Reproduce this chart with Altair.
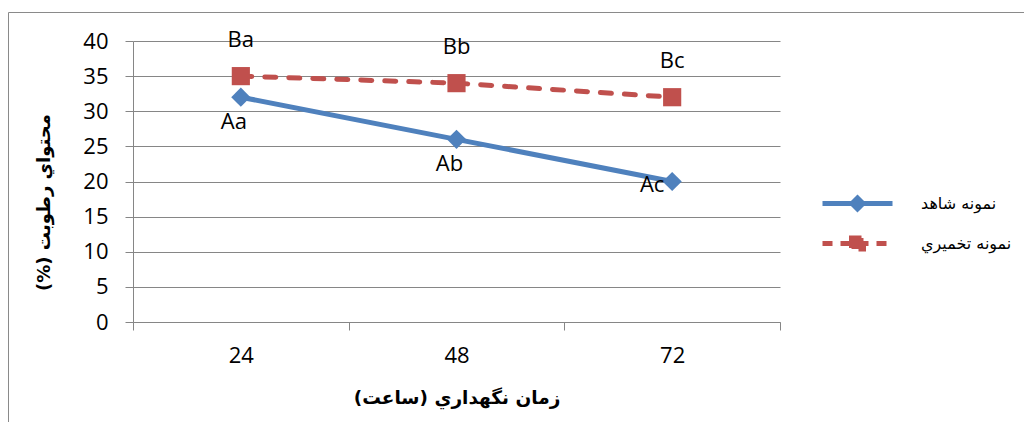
import altair as alt
import pandas as pd

# ---- data ----
hours = [24, 48, 72]
series_names = ["نمونه شاهد", "نمونه تخميري"]
control_values = [32, 26, 20]
fermented_values = [35, 34, 32]
control_letters = ["Aa", "Ab", "Ac"]
fermented_letters = ["Ba", "Bb", "Bc"]
x_tick_values = [12, 24, 36, 48, 60, 72, 84]
y_tick_values = [0, 5, 10, 15, 20, 25, 30, 35, 40]
colors = ["#4F81BD", "#C0504D"]
x_title = "زمان نگهداري (ساعت)"
y_title = "محتواي رطوبت (%)"

RLE, PDF = "\u202B", "\u202C"  # right-to-left embedding so the parentheses sit as in the original

rows = []
for h, v, l in zip(hours, control_values, control_letters):
    rows.append({"hour": h, "value": v, "series": series_names[0], "letter": l})
for h, v, l in zip(hours, fermented_values, fermented_letters):
    rows.append({"hour": h, "value": v, "series": series_names[1], "letter": l})
df = pd.DataFrame(rows)

GRID = "#868686"
NUM_FONT = "Open Sans"
AR_FONT = "DejaVu Sans"
NUM_SIZE = 22

x_enc = alt.X(
    "hour:Q",
    scale=alt.Scale(domain=[12, 84], nice=False, zero=False),
    axis=alt.Axis(
        values=x_tick_values,
        labelExpr="datum.value % 24 === 0 ? datum.label : ''",
        tickOpacity={"condition": {"test": "datum.value % 24 === 12", "value": 1}, "value": 0},
        grid=False,
        domainColor=GRID,
        tickColor=GRID,
        tickSize=8,
        labelFontSize=NUM_SIZE,
        labelFont=NUM_FONT,
        labelPadding=15,
        labelColor="black",
        labelOverlap=False,
        labelFlush=False,
        title=RLE + x_title + PDF,
        titleFont=AR_FONT,
        titleFontSize=18.5,
        titleFontWeight="bold",
        titleColor="black",
        titleY=75,
        titleBaseline="middle",
    ),
)
y_enc = alt.Y(
    "value:Q",
    scale=alt.Scale(domain=[0, 40], nice=False),
    axis=alt.Axis(
        values=y_tick_values,
        grid=True,
        gridColor=GRID,
        domainColor=GRID,
        tickColor=GRID,
        tickSize=8,
        labelFontSize=NUM_SIZE,
        labelFont=NUM_FONT,
        labelPadding=17,
        labelColor="black",
        title=RLE + y_title + PDF,
        titleFont=AR_FONT,
        titleFontSize=18,
        titleFontWeight="bold",
        titleColor="black",
        titleAngle=270,
        titleX=-89,
        titleY=161,
        titleAlign="center",
        titleBaseline="middle",
    ),
)

diamond_path = "M-3.5,0H3.5M0,-0.55L0.55,0L0,0.55L-0.55,0Z"
square_path = "M-3.5,0H3.5M-0.6,-0.55H0.6V0.55H-0.6Z"


def make_legend(path, color, y, dash=None):
    kw = dict(
        title=None,
        orient="none",
        legendX=712,
        legendY=y,
        padding=0,
        symbolType=path,
        symbolSize=400,
        symbolStrokeWidth=5,
        symbolStrokeColor=color,
        symbolFillColor=color,
        symbolOpacity=1,
        labelOffset=51,
        labelFontSize=16,
        labelFont=AR_FONT,
        labelColor="black",
    )
    if dash is not None:
        kw["symbolDash"] = dash
    return alt.Legend(**kw)


base = alt.Chart(df)

border = alt.Chart(alt.InlineData(values=[{"k": 1}])).mark_rect(
    fillOpacity=0, stroke="#8a8a8a", strokeWidth=1
).encode(
    x=alt.value(-124.5), x2=alt.value(1100), y=alt.value(-28.5), y2=alt.value(500)
)

a_data = base.transform_filter(alt.datum.series == series_names[0])
b_data = base.transform_filter(alt.datum.series == series_names[1])

line_a = a_data.mark_line(strokeWidth=5, strokeCap="round", color=colors[0]).encode(
    x=x_enc, y=y_enc
)
line_b = b_data.mark_line(
    strokeWidth=5, strokeCap="round", strokeDash=[11, 13], color=colors[1]
).encode(x=x_enc, y=y_enc)

points_a = a_data.mark_point(filled=True, size=370, opacity=1, shape="diamond").encode(
    x=x_enc,
    y=y_enc,
    color=alt.Color(
        "series:N",
        scale=alt.Scale(domain=[series_names[0]], range=[colors[0]]),
        legend=make_legend(diamond_path, colors[0], 150),
    ),
)
points_b = b_data.mark_point(filled=True, size=330, opacity=1, shape="square").encode(
    x=x_enc,
    y=y_enc,
    color=alt.Color(
        "series:N",
        scale=alt.Scale(domain=[series_names[1]], range=[colors[1]]),
        legend=make_legend(square_path, colors[1], 190, dash=[10, 8]),
    ),
)

txt = dict(fontSize=NUM_SIZE, font=NUM_FONT, color="black")
labels_b = b_data.mark_text(dy=-36, **txt).encode(x=x_enc, y=y_enc, text="letter:N")
labels_a = base.transform_filter(
    (alt.datum.series == series_names[0]) & (alt.datum.letter != "Ac")
).mark_text(dx=-7, dy=25, **txt).encode(x=x_enc, y=y_enc, text="letter:N")
labels_ac = base.transform_filter(alt.datum.letter == "Ac").mark_text(
    dx=-20, dy=3, **txt
).encode(x=x_enc, y=y_enc, text="letter:N")

chart = (
    alt.layer(border, line_a, line_b, points_a, points_b, labels_b, labels_a, labels_ac)
    .resolve_scale(color="independent")
    .resolve_legend(color="independent")
    .properties(
        width=647,
        height=281,
        autosize=alt.AutoSizeParams(type="none"),
        padding={"left": 125, "top": 33, "right": 244, "bottom": 100},
    )
    .configure_view(stroke=None)
)

chart.save("out.html", embed_options={"renderer": "svg", "actions": False})
